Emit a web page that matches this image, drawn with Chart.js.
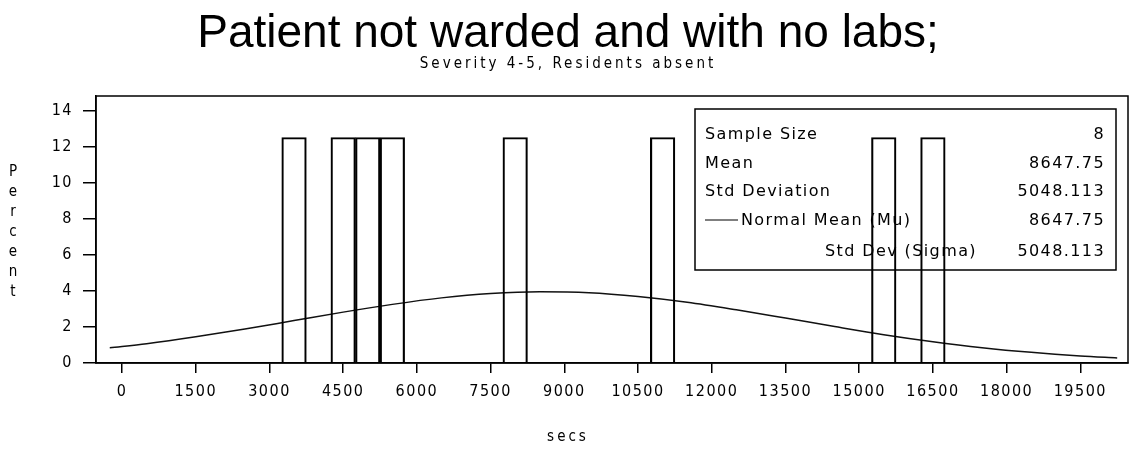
<!DOCTYPE html>
<html>
<head>
<meta charset="utf-8">
<title>Patient not warded and with no labs</title>
<script src="https://cdn.jsdelivr.net/npm/chart.js@4/dist/chart.umd.min.js"></script>
<style>
  html, body { margin: 0; padding: 0; background: #fff; }
  #wrap { width: 1133px; height: 451px; }
</style>
</head>
<body>
<div id="wrap"><canvas id="hist"></canvas></div>
<script>
// histogram bins (midpoint, secs) and percent of patients in each
var midpoints = [3500, 4500, 5000, 5500, 8000, 11000, 15500, 16500];
var percent = [12.5, 12.5, 12.5, 12.5, 12.5, 12.5, 12.5, 12.5];

// fitted normal curve, sampled along the axis
var curveSecs = [-250, 500, 1500, 2500, 3500, 4500, 5500, 6500, 7500, 8500, 9500,
                 10500, 11500, 12500, 13500, 14500, 15500, 16500, 17500, 18500, 19500, 20250];
var curvePct = [0.84, 1.07, 1.45, 1.88, 2.35, 2.82, 3.25, 3.61, 3.85, 3.95, 3.90,
                3.69, 3.37, 2.95, 2.49, 2.02, 1.57, 1.18, 0.85, 0.59, 0.39, 0.28];

// axis ticks
var xTicks = [0, 1500, 3000, 4500, 6000, 7500, 9000, 10500, 12000, 13500, 15000, 16500, 18000, 19500];
var yTicks = [0, 2, 4, 6, 8, 10, 12, 14];

// summary statistics table
var statLabels = ["Sample Size", "Mean", "Std Deviation", "Normal Mean (Mu)", "Std Dev (Sigma)"];
var statValues = ["8", "8647.75", "5048.113", "8647.75", "5048.113"];

var narrow = '"Liberation Sans Narrow", "DejaVu Sans Condensed", sans-serif';

function spaced(ctx, px) {
  if ('letterSpacing' in ctx) ctx.letterSpacing = px + 'px';
}

// wide letter spacing for the tick labels
var tickSpacing = {
  id: 'tickSpacing',
  beforeDraw: function(chart) { spaced(chart.ctx, 1.5); }
};

// white stats box behind the bars
var statsBox = {
  id: 'statsBox',
  beforeDatasetsDraw: function(chart) {
    var ctx = chart.ctx;
    var x0 = 695, y0 = 109, x1 = 1116, y1 = 270;
    ctx.save();
    ctx.fillStyle = '#fff';
    ctx.fillRect(x0, y0, x1 - x0, y1 - y0);
    ctx.strokeStyle = '#000';
    ctx.lineWidth = 1.5;
    ctx.strokeRect(x0, y0, x1 - x0, y1 - y0);
    ctx.fillStyle = '#000';
    ctx.font = '16px "DejaVu Sans", sans-serif';
    spaced(ctx, 1.4);
    ctx.textBaseline = 'middle';
    var rows = [135, 164, 192, 221, 252];
    for (var i = 0; i < statLabels.length; i++) {
      var y = rows[i];
      if (i < 3) {
        ctx.textAlign = 'left';
        ctx.fillText(statLabels[i], 705, y);
      } else if (i == 3) {
        ctx.beginPath();
        ctx.lineWidth = 1.2;
        ctx.moveTo(705, y - 1);
        ctx.lineTo(738, y - 1);
        ctx.stroke();
        ctx.textAlign = 'left';
        ctx.fillText(statLabels[i], 741, y);
      } else {
        ctx.textAlign = 'right';
        ctx.fillText(statLabels[i], 977, y);
      }
      ctx.textAlign = 'right';
      ctx.fillText(statValues[i], 1105, y);
    }
    ctx.restore();
  }
};

// frame, titles and axis labels
var decorations = {
  id: 'decorations',
  afterDraw: function(chart) {
    var ctx = chart.ctx;
    var a = chart.chartArea;
    ctx.save();
    ctx.strokeStyle = '#000';
    ctx.lineWidth = 1.5;
    ctx.strokeRect(a.left, a.top, a.right - a.left, a.bottom - a.top);

    ctx.fillStyle = '#000';
    ctx.textAlign = 'center';
    ctx.textBaseline = 'alphabetic';
    ctx.font = '46px "Liberation Sans", Arial, sans-serif';
    spaced(ctx, 0);
    ctx.fillText('Patient not warded and with no labs;', 568, 47);

    ctx.font = '15px ' + narrow;
    spaced(ctx, 3);
    ctx.textBaseline = 'middle';
    ctx.fillText('Severity 4-5, Residents absent', 568, 64);
    ctx.fillText('secs', 568, 437);

    // stacked y-axis title
    ctx.font = '15px ' + narrow;
    spaced(ctx, 0);
    var word = 'Percent';
    for (var i = 0; i < word.length; i++) {
      ctx.fillText(word[i], 13, 172 + i * 20);
    }
    ctx.restore();
  }
};

function plain(v) { return String(v); }

var ctx = document.getElementById("hist");
var hist = new Chart(ctx, {
  type: 'bar',
  data: {
    datasets: [
      {
        type: 'bar',
        data: midpoints.map(function(m, i) { return { x: m, y: percent[i] }; }),
        backgroundColor: 'rgba(0,0,0,0)',
        borderColor: '#000',
        borderWidth: 1.5,
        barPercentage: 1,
        categoryPercentage: 1
      },
      {
        type: 'line',
        data: curveSecs.map(function(s, i) { return { x: s, y: curvePct[i] }; }),
        borderColor: '#111',
        borderWidth: 1.5,
        pointRadius: 0,
        cubicInterpolationMode: 'monotone',
        fill: false
      }
    ]
  },
  options: {
    animation: false,
    responsive: true,
    maintainAspectRatio: false,
    layout: { padding: { top: 96, right: 5, left: 0, bottom: 0 } },
    plugins: { legend: { display: false }, tooltip: { enabled: false } },
    scales: {
      x: {
        type: 'linear',
        offset: false,
        min: -530,
        max: 20470,
        afterBuildTicks: function(s) { s.ticks = xTicks.map(function(v) { return { value: v }; }); },
        afterFit: function(s) { s.height = 88; },
        grid: { offset: false, drawOnChartArea: false, drawTicks: true, tickLength: 10, color: '#000', lineWidth: 1.5 },
        border: { color: '#000', width: 1.5 },
        ticks: { color: '#000', font: { family: narrow, size: 16 }, padding: 9, maxRotation: 0, autoSkip: false, callback: plain }
      },
      y: {
        min: 0,
        max: 14.8,
        afterBuildTicks: function(s) { s.ticks = yTicks.map(function(v) { return { value: v }; }); },
        afterFit: function(s) { s.width = 96; },
        grid: { drawOnChartArea: false, drawTicks: true, tickLength: 13, color: '#000', lineWidth: 1.5 },
        border: { color: '#000', width: 1.5 },
        ticks: { color: '#000', font: { family: narrow, size: 16 }, padding: 10, callback: plain }
      }
    }
  },
  plugins: [tickSpacing, statsBox, decorations]
});
</script>
</body>
</html>
